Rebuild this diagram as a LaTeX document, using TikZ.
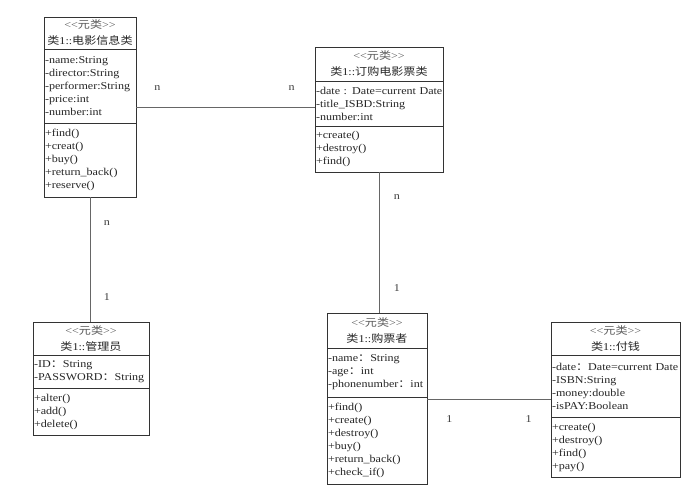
\documentclass[tikz,border=0pt]{standalone}
\usepackage{fontspec}
\setmainfont{Liberation Serif}[FakeStretch=1.15]
\newfontfamily\cjk{Noto Sans CJK SC}[FakeStretch=1.15]
\usetikzlibrary{positioning}
\newcommand{\meta}{{\color{black!65}<\kern0pt<{\cjk 元类}>\kern0pt>}}
\newcommand{\fc}{{\cjk ：}}

\begin{document}
\begin{tikzpicture}[x=1pt, y=-1pt,
    clsbody/.style={draw=black!80, line width=1pt, outer sep=0pt, inner xsep=1pt, inner ysep=0pt,
        text width=#1, align=left, text=black!85, font=\fontsize{10.5}{13}\selectfont},
    clshead/.style={clsbody=#1, align=center, font=\fontsize{10.5}{16}\selectfont},
    link/.style={draw=black!60, line width=0.7pt},
    lbl/.style={inner sep=0pt, text=black!75, font=\fontsize{10.5}{13}\selectfont}]
    \fill[white] (0,0) rectangle (692,491);
    \useasboundingbox (0,0) rectangle (692,491);

    \node[clshead=90pt, minimum height=32pt, anchor=north west] (filmHead) at (44,17)
        {\meta\\{\cjk 类}1::{\cjk 电影信息类}};
    \node[clsbody=90pt, minimum height=74pt, below=0pt of filmHead] (filmAttr)
        {-name:String\\-director:String\\-performer:String\\-price:int\\-number:int};
    \node[clsbody=90pt, minimum height=74pt, below=0pt of filmAttr] (filmOps)
        {+find()\\+creat()\\+buy()\\+return\_back()\\+reserve()};

    \node[clshead=126pt, minimum height=34pt, anchor=north west] (orderHead) at (315,47)
        {\meta\\{\cjk 类}1::{\cjk 订购电影票类}};
    \node[clsbody=126pt, minimum height=45pt, below=0pt of orderHead] (orderAttr)
        {\mbox{-date : Date=current Date}\\-title\_ISBD:String\\-number:int};
    \node[clsbody=126pt, minimum height=46pt, below=0pt of orderAttr] (orderOps)
        {+create()\\+destroy()\\+find()};

    \node[clshead=114pt, minimum height=33pt, anchor=north west] (adminHead) at (33,322)
        {\meta\\{\cjk 类}1::{\cjk 管理员}};
    \node[clsbody=114pt, minimum height=33pt, below=0pt of adminHead] (adminAttr)
        {-ID\fc String\\-PASSWORD\fc String};
    \node[clsbody=114pt, minimum height=47pt, below=0pt of adminAttr] (adminOps)
        {+alter()\\+add()\\+delete()};

    \node[clshead=98pt, minimum height=35pt, anchor=north west] (buyerHead) at (327,313)
        {\meta\\{\cjk 类}1::{\cjk 购票者}};
    \node[clsbody=98pt, minimum height=49pt, below=0pt of buyerHead] (buyerAttr)
        {-name\fc String\\-age\fc int\\-phonenumber\fc int};
    \node[clsbody=98pt, minimum height=87pt, below=0pt of buyerAttr] (buyerOps)
        {+find()\\+create()\\+destroy()\\+buy()\\+return\_back()\\+check\_if()};

    \node[clshead=127pt, minimum height=33pt, anchor=north west] (payHead) at (551,322)
        {\meta\\{\cjk 类}1::{\cjk 付钱}};
    \node[clsbody=127pt, minimum height=62pt, below=0pt of payHead] (payAttr)
        {-date\fc Date=current Date\\-ISBN:String\\-money:double\\-isPAY:Boolean};
    \node[clsbody=127pt, minimum height=60pt, below=0pt of payAttr] (payOps)
        {+create()\\+destroy()\\+find()\\+pay()};

    \draw[link] ([yshift=16pt]filmAttr.south east) coordinate (ab) -- (ab -| orderAttr.west)
        node[lbl, pos=.12, yshift=19pt] (abFilm) {n}
        node[lbl, pos=.87, yshift=19pt] (abOrder) {n};
    \draw[link] (filmOps.south) -- (filmOps.south |- adminHead.north)
        node[lbl, pos=.21, xshift=17pt] (acFilm) {n}
        node[lbl, pos=.80, xshift=17pt] (acAdmin) {1};
    \draw[link] (orderOps.south) -- (orderOps.south |- buyerHead.north)
        node[lbl, pos=.18, xshift=18pt] (bdOrder) {n}
        node[lbl, pos=.82, xshift=18pt] (bdBuyer) {1};
    \draw[link] ([yshift=-2pt]buyerOps.north east) coordinate (de) -- (de -| payAttr.west)
        node[lbl, pos=.18, yshift=-20pt] (deBuyer) {1}
        node[lbl, pos=.82, yshift=-20pt] (dePay) {1};
\end{tikzpicture}
\end{document}
